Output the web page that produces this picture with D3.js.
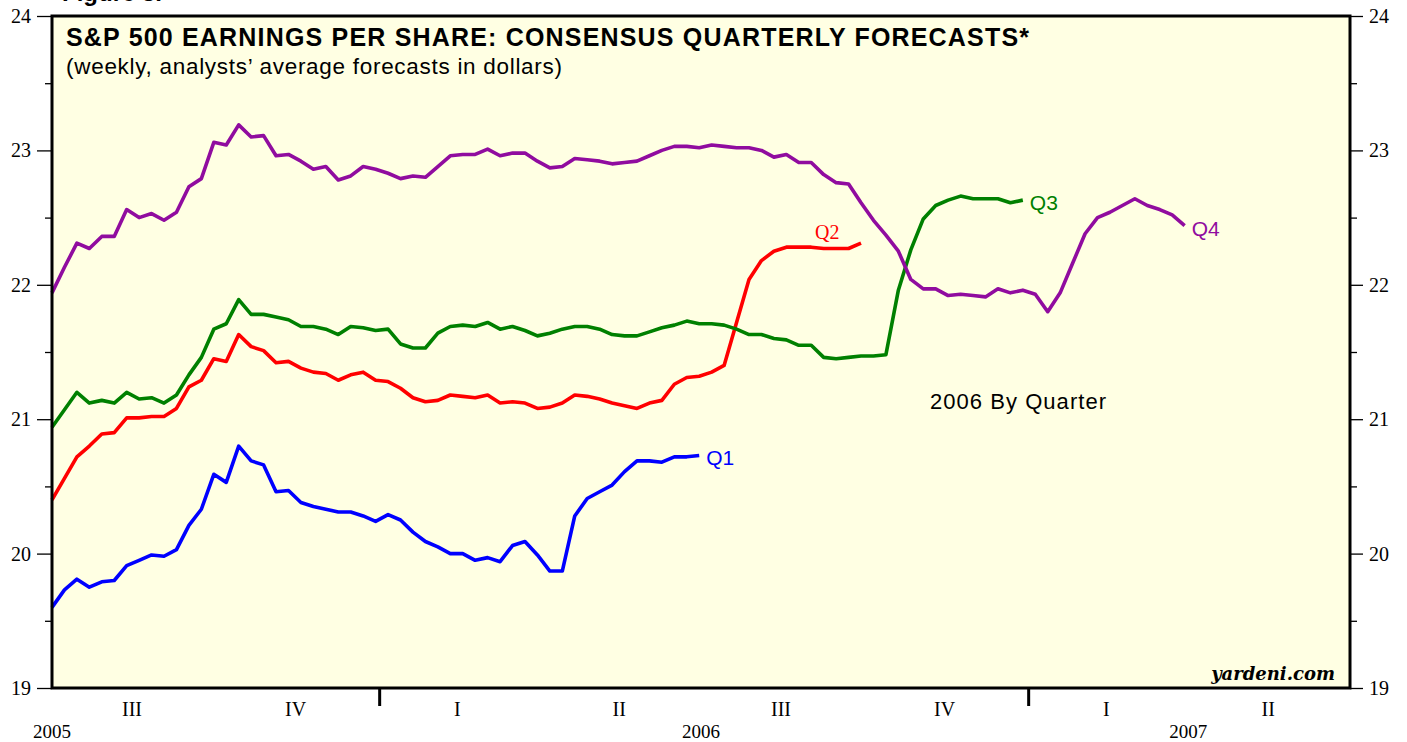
<!DOCTYPE html>
<html>
<head>
<meta charset="utf-8">
<script src="https://cdn.jsdelivr.net/npm/d3@7"></script>
<style>
  body { margin: 0; background: #fff; }
  svg { display: block; }
</style>
</head>
<body>
<div id="chart"></div>
<script>
// weekly consensus forecasts, first reading on 2005-07-01
const startDate = new Date(2005, 6, 1);

const q1Values = [
  19.60, 19.73, 19.81, 19.75, 19.79, 19.80, 19.91, 19.95, 19.99, 19.98,
  20.03, 20.21, 20.33, 20.59, 20.53, 20.80, 20.69, 20.66, 20.46, 20.47,
  20.38, 20.35, 20.33, 20.31, 20.31, 20.28, 20.24, 20.29, 20.25, 20.16,
  20.09, 20.05, 20.00, 20.00, 19.95, 19.97, 19.94, 20.06, 20.09, 19.99,
  19.87, 19.87, 20.28, 20.41, 20.46, 20.51, 20.61, 20.69, 20.69, 20.68,
  20.72, 20.72, 20.73
];
const q2Values = [
  20.40, 20.56, 20.72, 20.80, 20.89, 20.90, 21.01, 21.01, 21.02, 21.02,
  21.08, 21.24, 21.29, 21.45, 21.43, 21.63, 21.54, 21.51, 21.42, 21.43,
  21.38, 21.35, 21.34, 21.29, 21.33, 21.35, 21.29, 21.28, 21.23, 21.16,
  21.13, 21.14, 21.18, 21.17, 21.16, 21.18, 21.12, 21.13, 21.12, 21.08,
  21.09, 21.12, 21.18, 21.17, 21.15, 21.12, 21.10, 21.08, 21.12, 21.14,
  21.26, 21.31, 21.32, 21.35, 21.40, 21.72, 22.04, 22.18, 22.25, 22.28,
  22.28, 22.28, 22.27, 22.27, 22.27, 22.31
];
const q3Values = [
  20.94, 21.07, 21.20, 21.12, 21.14, 21.12, 21.20, 21.15, 21.16, 21.12,
  21.18, 21.33, 21.46, 21.67, 21.71, 21.89, 21.78, 21.78, 21.76, 21.74,
  21.69, 21.69, 21.67, 21.63, 21.69, 21.68, 21.66, 21.67, 21.56, 21.53,
  21.53, 21.64, 21.69, 21.70, 21.69, 21.72, 21.67, 21.69, 21.66, 21.62,
  21.64, 21.67, 21.69, 21.69, 21.67, 21.63, 21.62, 21.62, 21.65, 21.68,
  21.70, 21.73, 21.71, 21.71, 21.70, 21.67, 21.63, 21.63, 21.60, 21.59,
  21.55, 21.55, 21.46, 21.45, 21.46, 21.47, 21.47, 21.48, 21.96, 22.26,
  22.49, 22.59, 22.63, 22.66, 22.64, 22.64, 22.64, 22.61, 22.63
];
const q4Values = [
  21.94, 22.13, 22.31, 22.27, 22.36, 22.36, 22.56, 22.50, 22.53, 22.48,
  22.54, 22.73, 22.79, 23.06, 23.04, 23.19, 23.10, 23.11, 22.96, 22.97,
  22.92, 22.86, 22.88, 22.78, 22.81, 22.88, 22.86, 22.83, 22.79, 22.81,
  22.80, 22.88, 22.96, 22.97, 22.97, 23.01, 22.96, 22.98, 22.98, 22.92,
  22.87, 22.88, 22.94, 22.93, 22.92, 22.90, 22.91, 22.92, 22.96, 23.00,
  23.03, 23.03, 23.02, 23.04, 23.03, 23.02, 23.02, 23.00, 22.95, 22.97,
  22.91, 22.91, 22.82, 22.76, 22.75, 22.61, 22.48, 22.37, 22.25, 22.04,
  21.97, 21.97, 21.92, 21.93, 21.92, 21.91, 21.97, 21.94, 21.96, 21.93,
  21.80, 21.94, 22.16, 22.38, 22.50, 22.54, 22.59, 22.64, 22.59, 22.56,
  22.52, 22.44
];

const yTicks = [19, 20, 21, 22, 23, 24];
const yMinorTicks = [19.5, 20.5, 21.5, 22.5, 23.5];
const quarterLabels = [
  { label: "III", date: new Date(2005, 7, 15) },
  { label: "IV", date: new Date(2005, 10, 15) },
  { label: "I", date: new Date(2006, 1, 14) },
  { label: "II", date: new Date(2006, 4, 16) },
  { label: "III", date: new Date(2006, 7, 15) },
  { label: "IV", date: new Date(2006, 10, 15) },
  { label: "I", date: new Date(2007, 1, 14) },
  { label: "II", date: new Date(2007, 4, 16) }
];
const yearLabels = [
  { label: "2005", date: new Date(2005, 6, 1) },
  { label: "2006", date: new Date(2006, 6, 1) },
  { label: "2007", date: new Date(2007, 3, 1) }
];
const yearBreaks = [new Date(2006, 0, 1), new Date(2007, 0, 1)];

const series = [
  { name: "Q1", values: q1Values, color: "#0000ff" },
  { name: "Q2", values: q2Values, color: "#ff0000" },
  { name: "Q3", values: q3Values, color: "#008000" },
  { name: "Q4", values: q4Values, color: "#900c9f" }
];

const width = 1407, height = 742;
const margin = { top: 16, right: 57, bottom: 54, left: 52 };

const svg = d3.select("#chart").append("svg")
  .attr("width", width)
  .attr("height", height);

const x = d3.scaleTime()
  .domain([new Date(2005, 6, 1), new Date(2007, 6, 1)])
  .range([margin.left, width - margin.right]);

const y = d3.scaleLinear()
  .domain([19, 24])
  .range([height - margin.bottom, margin.top]);

const weekDate = (i) => d3.timeDay.offset(startDate, i * 7);

const sans = "Liberation Sans, Arial, Helvetica, sans-serif";
const serif = "Liberation Serif, Times New Roman, serif";

// figure caption, mostly cut off by the top edge
svg.append("text")
  .attr("x", 62).attr("y", 0.5)
  .attr("font-family", sans)
  .attr("font-weight", "bold")
  .attr("font-size", 24)
  .text("Figure 5.");

svg.append("rect")
  .attr("x", x.range()[0]).attr("y", y(24))
  .attr("width", x.range()[1] - x.range()[0])
  .attr("height", y(19) - y(24))
  .attr("fill", "#ffffe3");

// axes
const leftAxis = svg.append("g")
  .attr("transform", `translate(${x.range()[0]},0)`)
  .call(d3.axisLeft(y).tickValues(yTicks).tickFormat(d3.format("d")).tickSize(15).tickPadding(6));
const leftMinor = svg.append("g")
  .attr("transform", `translate(${x.range()[0]},0)`)
  .call(d3.axisLeft(y).tickValues(yMinorTicks).tickFormat("").tickSize(7));
const rightAxis = svg.append("g")
  .attr("transform", `translate(${x.range()[1]},0)`)
  .call(d3.axisRight(y).tickValues(yTicks).tickFormat(d3.format("d")).tickSize(13).tickPadding(6));
const rightMinor = svg.append("g")
  .attr("transform", `translate(${x.range()[1]},0)`)
  .call(d3.axisRight(y).tickValues(yMinorTicks).tickFormat("").tickSize(7));

[leftAxis, leftMinor, rightAxis, rightMinor].forEach((g) => {
  g.select(".domain").remove();
  g.selectAll("line").attr("stroke", "#000").attr("stroke-width", 1.3);
  g.selectAll("text")
    .attr("font-family", serif)
    .attr("font-size", 20)
    .attr("fill", "#000");
});

const xAxis = svg.append("g")
  .attr("transform", `translate(0,${y(19)})`)
  .call(d3.axisBottom(x).tickValues(yearBreaks).tickFormat("").tickSize(18));
xAxis.select(".domain").remove();
xAxis.selectAll("line").attr("stroke", "#000").attr("stroke-width", 3);

svg.append("g")
  .selectAll("text")
  .data(quarterLabels)
  .join("text")
  .attr("x", (d) => x(d.date))
  .attr("y", y(19) + 28)
  .attr("text-anchor", "middle")
  .attr("font-family", serif)
  .attr("font-size", 20)
  .text((d) => d.label);

svg.append("g")
  .selectAll("text")
  .data(yearLabels)
  .join("text")
  .attr("x", (d) => x(d.date))
  .attr("y", y(19) + 50)
  .attr("text-anchor", "middle")
  .attr("font-family", serif)
  .attr("font-size", 19)
  .text((d) => d.label);

// title block
svg.append("text")
  .attr("x", 66).attr("y", 46)
  .attr("font-family", sans)
  .attr("font-weight", "bold")
  .attr("font-size", 25)
  .attr("textLength", 963)
  .attr("lengthAdjust", "spacing")
  .text("S&P 500 EARNINGS PER SHARE: CONSENSUS QUARTERLY FORECASTS*");
svg.append("text")
  .attr("x", 66).attr("y", 74)
  .attr("font-family", sans)
  .attr("font-size", 22.5)
  .attr("textLength", 496)
  .attr("lengthAdjust", "spacing")
  .text("(weekly, analysts’ average forecasts in dollars)");

svg.append("text")
  .attr("x", 930).attr("y", 409)
  .attr("font-family", sans)
  .attr("font-size", 22)
  .attr("textLength", 176)
  .attr("lengthAdjust", "spacing")
  .text("2006 By Quarter");

svg.append("text")
  .attr("x", 1335).attr("y", 680)
  .attr("text-anchor", "end")
  .attr("font-family", "DejaVu Serif, Georgia, serif")
  .attr("font-weight", "bold")
  .attr("font-style", "italic")
  .attr("font-size", 18)
  .text("yardeni.com");

// lines
const line = d3.line()
  .x((d, i) => x(weekDate(i)))
  .y((d) => y(d));

svg.append("g")
  .selectAll("path")
  .data(series)
  .join("path")
  .attr("d", (d) => line(d.values))
  .attr("fill", "none")
  .attr("stroke", (d) => d.color)
  .attr("stroke-width", 3.6)
  .attr("stroke-linejoin", "round");

// end labels
svg.append("g")
  .selectAll("text")
  .data(series)
  .join("text")
  .attr("x", (d) => {
    const xe = x(weekDate(d.values.length - 1));
    return d.name === "Q2" ? xe - 46 : xe + 7;
  })
  .attr("y", (d) => {
    const ye = y(d.values[d.values.length - 1]);
    return d.name === "Q2" ? ye - 4 : ye + 10;
  })
  .attr("font-family", (d) => d.name === "Q2" ? serif : sans)
  .attr("font-size", (d) => d.name === "Q2" ? 20 : 21)
  .attr("fill", (d) => d.color)
  .text((d) => d.name);

// frame
svg.append("rect")
  .attr("x", x.range()[0]).attr("y", y(24))
  .attr("width", x.range()[1] - x.range()[0])
  .attr("height", y(19) - y(24))
  .attr("fill", "none")
  .attr("stroke", "#000")
  .attr("stroke-width", 3);
</script>
</body>
</html>
